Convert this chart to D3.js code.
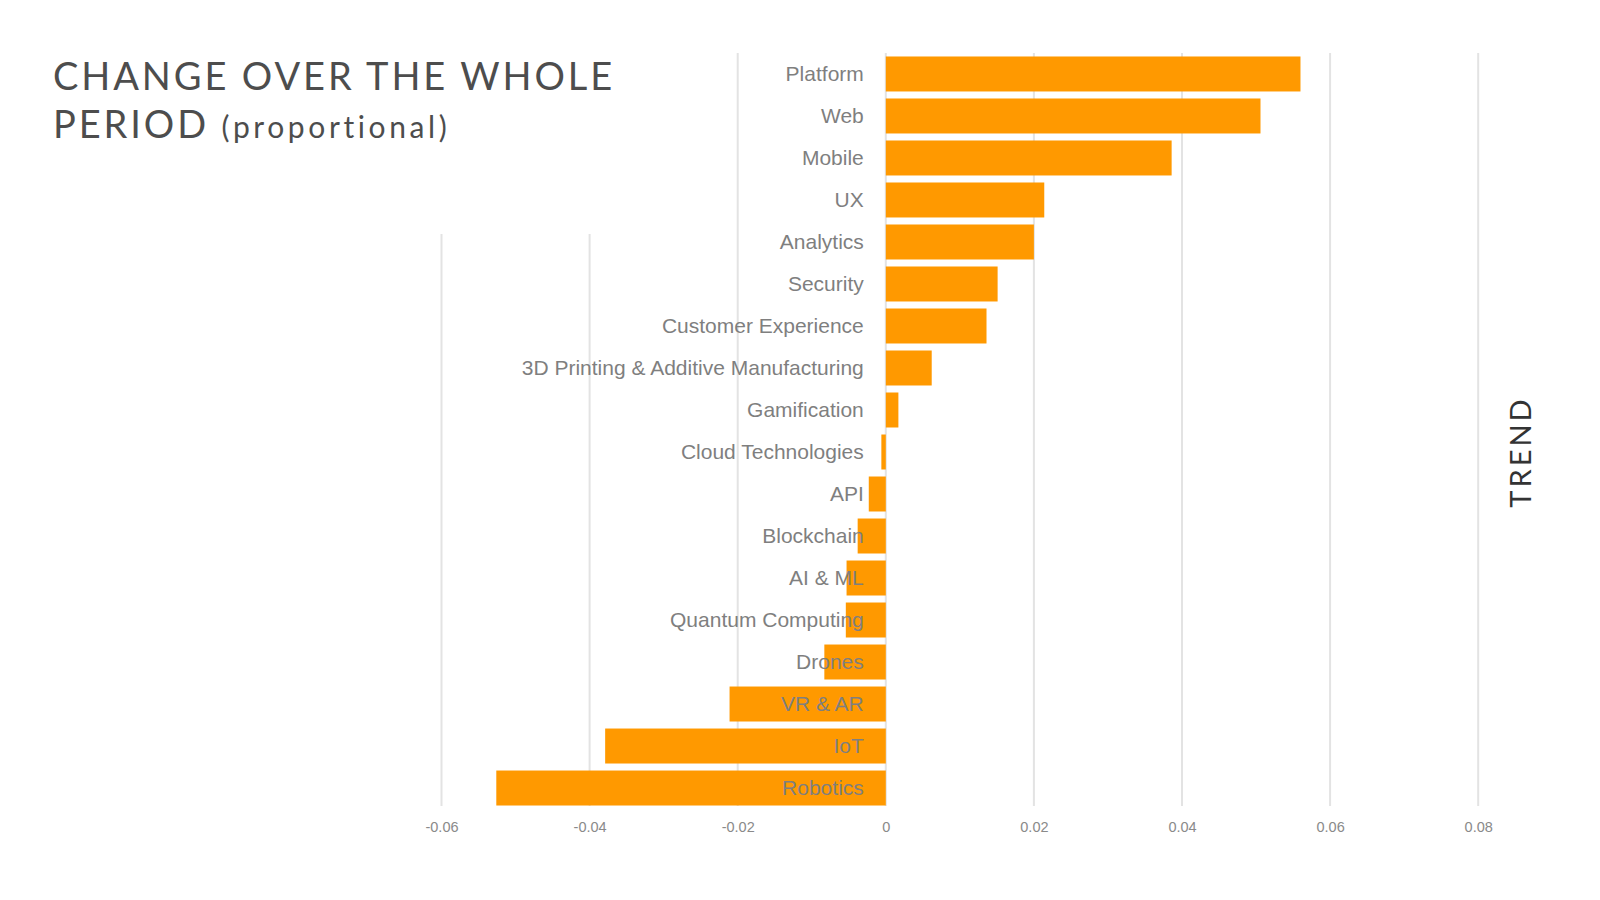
<!DOCTYPE html>
<html>
<head>
<meta charset="utf-8">
<script src="https://cdn.jsdelivr.net/npm/d3@7"></script>
<style>
  html, body { margin: 0; padding: 0; background: #ffffff; }
  svg { display: block; }
</style>
</head>
<body>
<svg id="chart" width="1600" height="900"></svg>
<script>
// ---- data ----
const categories = [
  "Platform", "Web", "Mobile", "UX", "Analytics", "Security",
  "Customer Experience", "3D Printing & Additive Manufacturing", "Gamification",
  "Cloud Technologies", "API", "Blockchain", "AI & ML", "Quantum Computing",
  "Drones", "VR & AR", "IoT", "Robotics"
];
const values = [
  0.0560, 0.0506, 0.0386, 0.0214, 0.0200, 0.0151,
  0.0136, 0.0062, 0.0017,
  -0.0006, -0.0023, -0.0038, -0.0053, -0.0054,
  -0.0083, -0.0211, -0.0379, -0.0526
];
const tickValues = [-0.06, -0.04, -0.02, 0, 0.02, 0.04, 0.06, 0.08];
const tickLabels = ["-0.06", "-0.04", "-0.02", "0", "0.02", "0.04", "0.06", "0.08"];
const titleLine1 = "CHANGE OVER THE WHOLE";
const titleLine2a = "PERIOD";
const titleLine2b = "(proportional)";
const sideLabel = "TREND";

// ---- chart ----
const svg = d3.select("#chart");
const x = d3.scaleLinear().domain([-0.06, 0.08]).range([441.5, 1478.2]);
const y = d3.scaleBand().domain(categories).range([53, 809])
  .paddingInner(0.167).paddingOuter(0.083);

// gridlines
svg.append("g").selectAll("line").data(tickValues).join("line")
  .attr("x1", d => x(d)).attr("x2", d => x(d))
  .attr("y1", 53).attr("y2", 806)
  .attr("stroke", "#e3e3e3").attr("stroke-width", 2);

// white title box covering the upper-left gridlines
svg.append("rect").attr("x", 0).attr("y", 0).attr("width", 625).attr("height", 234)
  .attr("fill", "#ffffff");

// bars
svg.append("g").selectAll("rect").data(categories).join("rect")
  .attr("x", (d, i) => Math.min(x(0), x(values[i])))
  .attr("width", (d, i) => Math.abs(x(values[i]) - x(0)))
  .attr("y", d => y(d))
  .attr("height", y.bandwidth())
  .attr("fill", "#ff9900");

// category labels (drawn over bars)
svg.append("g").selectAll("text").data(categories).join("text")
  .attr("x", x(0) - 22)
  .attr("y", d => y(d) + y.bandwidth() / 2)
  .attr("dy", "0.35em")
  .attr("text-anchor", "end")
  .attr("font-family", "'Liberation Sans', Arial, sans-serif")
  .attr("font-size", 21)
  .attr("fill", "#7f7f7f")
  .text(d => d);

// x axis tick labels
const xAxis = d3.axisBottom(x).tickValues(tickValues)
  .tickFormat((d, i) => tickLabels[i]).tickSize(0).tickPadding(0);
const gx = svg.append("g").attr("transform", "translate(0,822)").call(xAxis);
gx.select(".domain").remove();
gx.selectAll("text")
  .attr("font-family", "'Liberation Sans', Arial, sans-serif")
  .attr("font-size", 14.5)
  .attr("fill", "#8a8a8a");

// title
const title = svg.append("g")
  .attr("font-family", "Lato, 'Open Sans', sans-serif")
  .attr("fill", "#4d4d4d");
title.append("text").attr("x", 53).attr("y", 90)
  .attr("font-size", 38).attr("letter-spacing", 2.9)
  .text(titleLine1);
const t2 = title.append("text").attr("x", 53).attr("y", 138)
  .attr("font-size", 38).attr("letter-spacing", 2.9);
t2.append("tspan").text(titleLine2a + " ");
t2.append("tspan").attr("font-size", 30).attr("letter-spacing", 3.6).text(titleLine2b);

// side label
svg.append("text")
  .attr("transform", "translate(1531,452) rotate(-90)")
  .attr("text-anchor", "middle")
  .attr("font-family", "Lato, 'Open Sans', sans-serif")
  .attr("font-size", 29)
  .attr("letter-spacing", 3)
  .attr("fill", "#333333")
  .text(sideLabel);
</script>
</body>
</html>
